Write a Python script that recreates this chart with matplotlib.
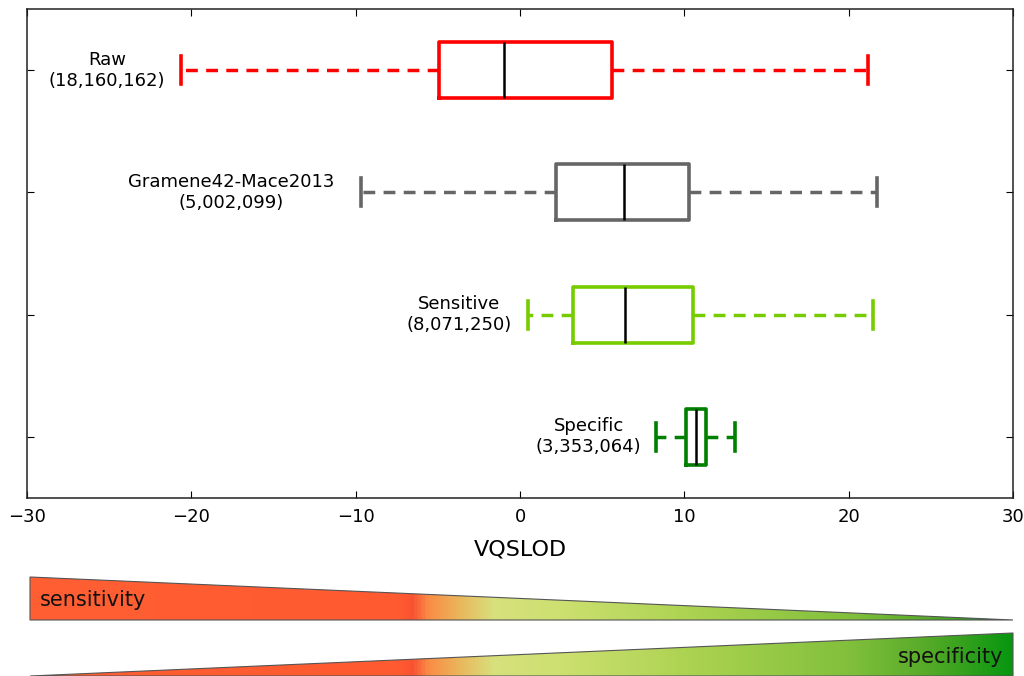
import numpy as np
import matplotlib
matplotlib.use("Agg")
import matplotlib.pyplot as plt
from matplotlib.colors import LinearSegmentedColormap
from matplotlib.patches import Polygon

# Daten
namen = ["Raw", "Gramene42-Mace2013", "Sensitive", "Specific"]
anzahl = ["18,160,162", "5,002,099", "8,071,250", "3,353,064"]
whis_lo = [-20.6, -9.7, 0.5, 8.3]
q1 = [-4.9, 2.2, 3.2, 10.1]
median = [-1.0, 6.3, 6.4, 10.7]
q3 = [5.6, 10.3, 10.5, 11.3]
whis_hi = [21.2, 21.7, 21.5, 13.1]
farben = ["#ff0000", "#666666", "#77cc00", "#008000"]

plt.rcParams['font.family'] = ['DejaVu Sans']

fig = plt.figure(figsize=(10.24, 6.76), dpi=100)
ax = fig.add_axes([27/1024, 1 - 498/676, 986/1024, 489/676])

stats = []
for i in range(len(namen)):
    stats.append(dict(med=median[i], q1=q1[i], q3=q3[i],
                      whislo=whis_lo[i], whishi=whis_hi[i], fliers=[]))

pos = list(range(len(namen), 0, -1))
bp = ax.bxp(stats, positions=pos, orientation='horizontal', widths=0.46,
            showfliers=False, manage_ticks=False)

# Abstand Beschriftung -> Whisker
abstand = [1.0, 1.6, 1.0, 0.9]
for i, f in enumerate(farben):
    bp['boxes'][i].set(color=f, linewidth=2.6)
    bp['medians'][i].set(color='black', linewidth=1.8)
    for w in bp['whiskers'][2*i:2*i+2]:
        w.set(color=f, linewidth=2.5, linestyle=(0, (3.4, 2.4)))
    for c in bp['caps'][2*i:2*i+2]:
        c.set(color=f, linewidth=2.6)
    ax.text(whis_lo[i] - abstand[i], pos[i], namen[i] + "\n(" + anzahl[i] + ")",
            ha='right', va='center', multialignment='center', fontsize=13)

ax.set_xlim(-30, 30)
ax.set_ylim(0.5, 4.5)
ax.set_xticks([-30, -20, -10, 0, 10, 20, 30])
ax.set_yticks(pos)
ax.set_yticklabels([])
ax.tick_params(direction='in', top=True, right=True, length=5, labelsize=13)
ax.tick_params(axis='x', pad=7)
ax.set_xlabel("VQSLOD", fontsize=16, labelpad=10)
for s in ax.spines.values():
    s.set_linewidth(1.1)
    s.set_color('#222222')

# Verlaufsbalken unten
ax2 = fig.add_axes([0, 0, 1, 1])
ax2.set_xlim(0, 1024)
ax2.set_ylim(676, 0)
ax2.axis('off')
ax2.patch.set_alpha(0)

stops = [0.0, 0.376, 0.389, 0.405, 0.435, 0.472, 0.539, 0.68, 0.834, 0.916, 1.0]
stop_farben = ["#ff5f33", "#ff5a30", "#f85232", "#fa8c46", "#ebb45a", "#d7e17d",
               "#cde070", "#aad250", "#82c03c", "#55aa28", "#089610"]
cmap = LinearSegmentedColormap.from_list("verlauf", list(zip(stops, stop_farben)))
grad = np.linspace(0, 1, 512).reshape(1, -1)

dreiecke = [
    [(30, 577), (1013, 620), (30, 620)],
    [(30, 676), (1013, 633), (1013, 676)],
]
for d in dreiecke:
    ys = [p[1] for p in d]
    im = ax2.imshow(grad, cmap=cmap, aspect='auto',
                    extent=[30, 1013, max(ys), min(ys)], interpolation='bilinear')
    poly = Polygon(d, closed=True, facecolor='none', edgecolor='#555555', linewidth=0.8)
    ax2.add_patch(poly)
    im.set_clip_path(poly)

ax2.text(40, 600, "sensitivity", ha='left', va='center', fontsize=15, color='#111111')
ax2.text(1003, 657, "specificity", ha='right', va='center', fontsize=15, color='#111111')

fig.savefig("out.png", dpi=100)
